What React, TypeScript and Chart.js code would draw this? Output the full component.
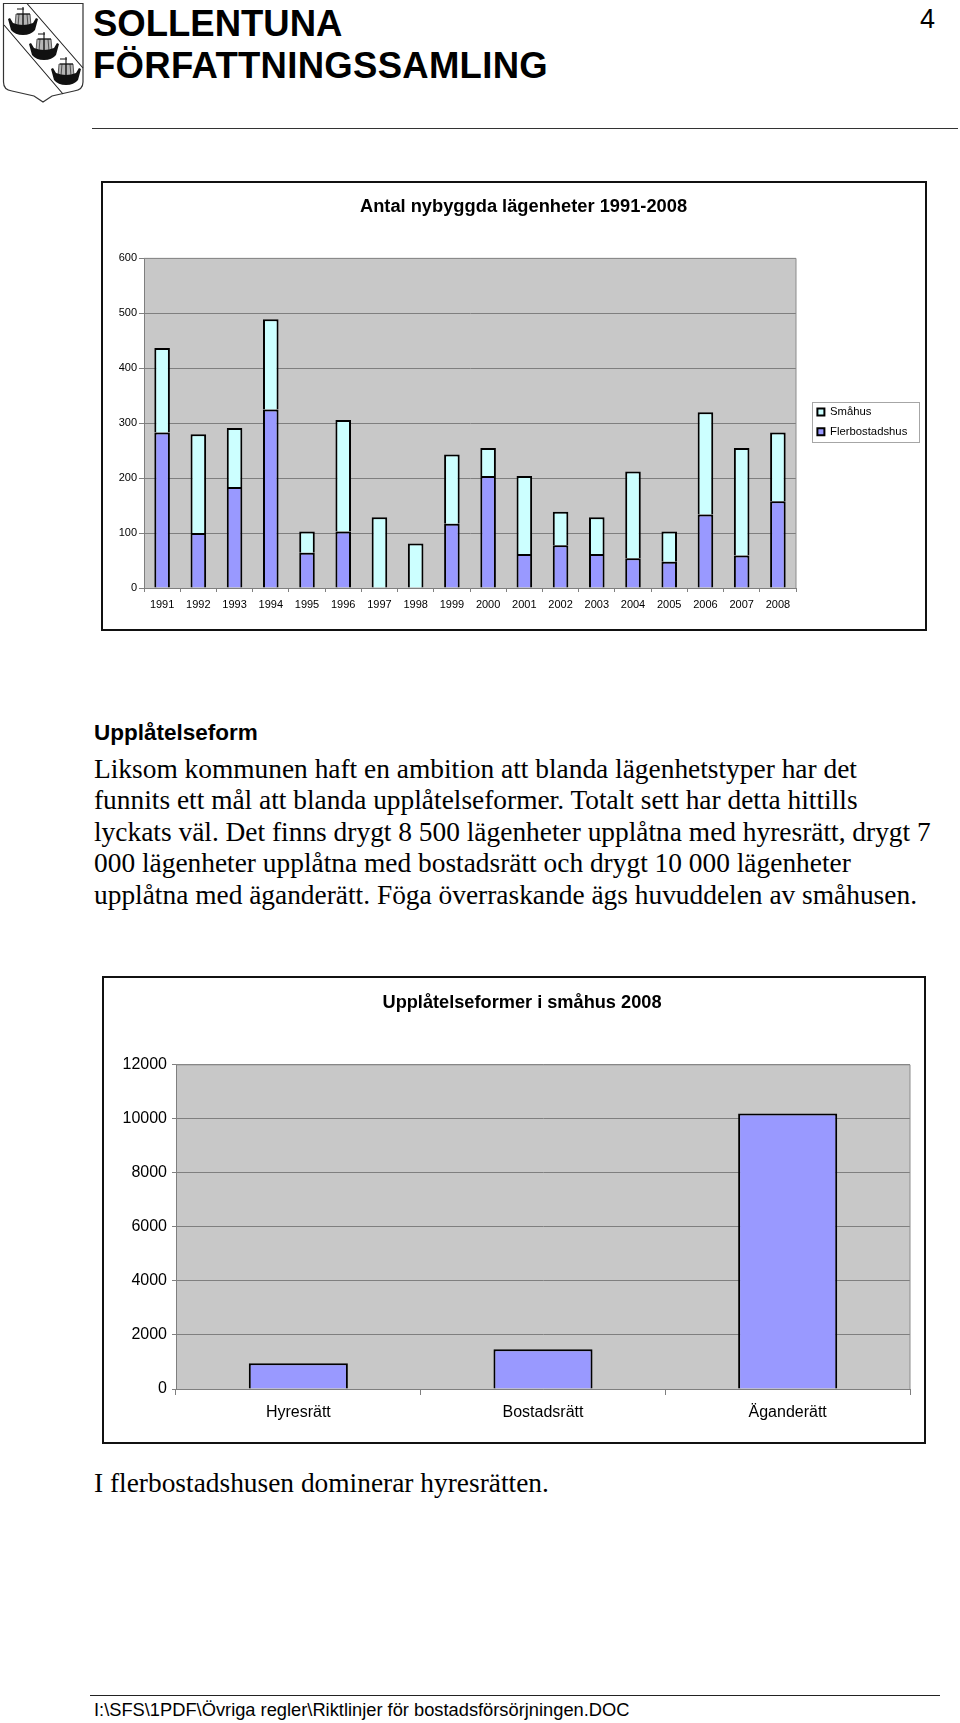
import React, { useEffect, useRef } from "react";
import { Chart, registerables } from "chart.js";

Chart.register(...registerables);

const years = ["1991","1992","1993","1994","1995","1996","1997","1998","1999","2000","2001","2002","2003","2004","2005","2006","2007","2008"];
const flerbostadshus = [283,100,184,325,64,103,0,0,117,204,62,78,62,54,48,134,59,158];
const smahus = [154,180,107,164,39,203,129,81,126,51,142,61,67,158,55,186,196,125];
const tenureTypes = ["Hyresrätt","Bostadsrätt","Äganderätt"];
const tenureValues = [950,1470,10200];

const bodyLines = [
  "Liksom kommunen haft en ambition att blanda lägenhetstyper har det",
  "funnits ett mål att blanda upplåtelseformer. Totalt sett har detta hittills",
  "lyckats väl. Det finns drygt 8 500 lägenheter upplåtna med hyresrätt, drygt 7",
  "000 lägenheter upplåtna med bostadsrätt och drygt 10 000 lägenheter",
  "upplåtna med äganderätt. Föga överraskande ägs huvuddelen av småhusen.",
];

const SANS = "'Liberation Sans', Arial, sans-serif";
const SERIF = "'Liberation Serif', 'Times New Roman', serif";
const GRID = "#7f7f7f";
const PLOT = "#c8c8c8";
const LILAC = "#9999ff";
const PALE = "#ccffff";

const layoutPlugin = (titleShift: number, legendBox?: { left: number; top: number; width: number; height: number }) => ({
  id: "pageLayout",
  afterLayout(chart: any) {
    if (chart.titleBlock) {
      chart.titleBlock.left += titleShift;
      chart.titleBlock.right += titleShift;
    }
    if (legendBox && chart.legend) {
      const l = chart.legend;
      l.left = legendBox.left - 3;
      l.top = legendBox.top - 4;
      l.right = l.left + legendBox.width;
      l.bottom = l.top + 80;
      l.width = legendBox.width;
      l.height = 80;
    }
  },
  beforeDraw(chart: any) {
    const { ctx, chartArea: a } = chart;
    ctx.save();
    ctx.fillStyle = PLOT;
    ctx.fillRect(a.left, a.top, a.right - a.left, a.bottom - a.top);
    ctx.restore();
  },
  afterDraw(chart: any) {
    const { ctx, chartArea: a } = chart;
    ctx.save();
    ctx.strokeStyle = "#8c8c8c";
    ctx.lineWidth = 1;
    ctx.beginPath();
    ctx.moveTo(a.left, a.top);
    ctx.lineTo(a.right, a.top);
    ctx.moveTo(a.right, a.top);
    ctx.lineTo(a.right, a.bottom);
    ctx.stroke();
    if (legendBox) {
      ctx.strokeStyle = "#a6a6a6";
      ctx.strokeRect(legendBox.left + 0.5, legendBox.top + 0.5, legendBox.width, legendBox.height);
    }
    ctx.restore();
  },
});

function useChart(make: (c: HTMLCanvasElement) => Chart) {
  const ref = useRef<HTMLCanvasElement | null>(null);
  useEffect(() => {
    const chart = make(ref.current!);
    return () => chart.destroy();
  }, []);
  return ref;
}

function makeYearsChart(canvas: HTMLCanvasElement) {
  return new Chart(canvas, {
    type: "bar",
    data: {
      labels: years,
      datasets: [
        { label: "Flerbostadshus", data: flerbostadshus, backgroundColor: LILAC, borderColor: "#000", borderWidth: 2, barPercentage: 0.43, categoryPercentage: 1 },
        { label: "Småhus", data: smahus, backgroundColor: PALE, borderColor: "#000", borderWidth: 2, barPercentage: 0.43, categoryPercentage: 1 },
      ],
    },
    options: {
      animation: false,
      responsive: false,
      layout: { padding: { top: 0, right: 129, bottom: 0, left: 0 } },
      plugins: {
        title: { display: true, text: "Antal nybyggda lägenheter 1991-2008", color: "#000", font: { family: SANS, size: 18.3, weight: "bold" }, padding: { top: 13, bottom: 40.4 } },
        legend: {
          position: "chartArea",
          align: "start",
          reverse: true,
          labels: { boxWidth: 7, boxHeight: 7, padding: 8.4, color: "#000", font: { family: SANS, size: 11.3 } },
        },
        tooltip: { enabled: false },
      },
      scales: {
        x: {
          stacked: true,
          grid: { display: true, drawOnChartArea: false, drawTicks: true, tickLength: 4, color: GRID },
          border: { color: GRID },
          ticks: { color: "#000", font: { family: SANS, size: 11 }, padding: 6, maxRotation: 0, autoSkip: false },
          afterFit(s: any) { s.height = 41; },
        },
        y: {
          stacked: true,
          min: 0,
          max: 600,
          grid: { color: GRID, tickLength: 5 },
          border: { color: GRID },
          ticks: { stepSize: 100, color: "#000", font: { family: SANS, size: 11 }, padding: 2 },
          afterFit(s: any) { s.width = 41; },
        },
      },
    },
    plugins: [layoutPlugin(74, { left: 709, top: 219, width: 107, height: 40 })],
  } as any);
}

function makeTenureChart(canvas: HTMLCanvasElement) {
  return new Chart(canvas, {
    type: "bar",
    data: {
      labels: tenureTypes,
      datasets: [
        { label: "Upplåtelseformer", data: tenureValues, backgroundColor: LILAC, borderColor: "#000", borderWidth: 2, barPercentage: 0.405, categoryPercentage: 1 },
      ],
    },
    options: {
      animation: false,
      responsive: false,
      layout: { padding: { top: 0, right: 14, bottom: 0, left: 0 } },
      plugins: {
        title: { display: true, text: "Upplåtelseformer i småhus 2008", color: "#000", font: { family: SANS, size: 18.2, weight: "bold" }, padding: { top: 14, bottom: 51 } },
        legend: { display: false },
        tooltip: { enabled: false },
      },
      scales: {
        x: {
          grid: { display: true, drawOnChartArea: false, drawTicks: true, tickLength: 6, color: GRID },
          border: { color: GRID },
          ticks: { color: "#000", font: { family: SANS, size: 16 }, padding: 8, maxRotation: 0 },
          afterFit(s: any) { s.height = 53; },
        },
        y: {
          min: 0,
          max: 12000,
          grid: { color: GRID, tickLength: 4 },
          border: { color: GRID },
          ticks: { stepSize: 2000, color: "#000", font: { family: SANS, size: 16 }, padding: 5, callback: (v: any) => String(v) },
          afterFit(s: any) { s.width = 72; },
        },
      },
    },
    plugins: [layoutPlugin(15)],
  } as any);
}

const abs = (left: number, top: number, extra: React.CSSProperties = {}): React.CSSProperties => ({
  position: "absolute",
  left,
  top,
  whiteSpace: "nowrap",
  ...extra,
});

function Shield() {
  const ship = (cx: number, cy: number) => (
    <g transform={`translate(${cx} ${cy})`} key={`${cx}`}>
      <path d="M-7 -8 H7 L8 4 H-8 Z" fill="#b5b5b5" stroke="#222" strokeWidth="0.7" />
      <path d="M-4 -8 L-5 4 M0 -8 V4 M4 -8 L5 4" stroke="#333" strokeWidth="0.8" fill="none" />
      <path d="M0 -15 V5 M-6 -13 H1 M-6 -8 H7" stroke="#111" strokeWidth="1.1" fill="none" />
      <path d="M-15 -3 L-13 -4 L-10 1 Q0 5 10 1 L13 -4 L15 -3 L12 8 Q8 13 0 13 Q-8 13 -12 8 Z" fill="#111" />
    </g>
  );
  return (
    <svg style={abs(0, 0)} width="90" height="106" viewBox="0 0 90 106">
      <path d="M3.5 3.5 H83 V82 Q83 90 74 91 L52 96 L43 102 L34 96 L12 91 Q3.5 90 3.5 82 Z" fill="#fff" stroke="#333" strokeWidth="1.2" />
      <path d="M27 3.5 L83 68 M4 25 L63 94" stroke="#222" strokeWidth="1.1" fill="none" />
      {ship(23, 22)}
      {ship(44, 47)}
      {ship(66, 72)}
    </svg>
  );
}

export default function App() {
  const ref1 = useChart(makeYearsChart);
  const ref2 = useChart(makeTenureChart);
  const frame = (left: number, top: number, w: number, h: number): React.CSSProperties => ({
    position: "absolute",
    left,
    top,
    width: w,
    height: h,
    border: "2px solid #111",
    boxSizing: "content-box",
    background: "#fff",
  });
  return (
    <div style={{ position: "absolute", left: 0, top: 0, width: 960, height: 1723, overflow: "hidden", background: "#fff", color: "#000" }}>
      <Shield />
      <div style={abs(93, 3, { font: `bold 36.5px/42px ${SANS}` })}>SOLLENTUNA<br /><span style={{ letterSpacing: 0.29 }}>FÖRFATTNINGSSAMLING</span></div>
      <div style={abs(920, 2, { font: `27px/34px ${SANS}` })}>4</div>
      <div style={abs(92, 128, { width: 866, height: 1, background: "#333" })} />

      <div style={frame(101, 181, 822, 446)}>
        <canvas ref={ref1} width={822} height={446} style={{ display: "block" }} />
      </div>

      <div style={abs(94, 720, { font: `bold 22.5px/26px ${SANS}` })}>Upplåtelseform</div>
      {bodyLines.map((t, i) => (
        <div key={i} style={abs(94, 753 + i * 31.4, { font: `27.4px/32px ${SERIF}` })}>{t}</div>
      ))}

      <div style={frame(102, 976, 820, 464)}>
        <canvas ref={ref2} width={820} height={464} style={{ display: "block" }} />
      </div>

      <div style={abs(94, 1467, { font: `27.4px/32px ${SERIF}` })}>I flerbostadshusen dominerar hyresrätten.</div>
      <div style={abs(90, 1695, { width: 850, height: 1, background: "#222" })} />
      <div style={abs(94, 1699, { font: `18.3px/22px ${SANS}` })}>I:\SFS\1PDF\Övriga regler\Riktlinjer för bostadsförsörjningen.DOC</div>
    </div>
  );
}
